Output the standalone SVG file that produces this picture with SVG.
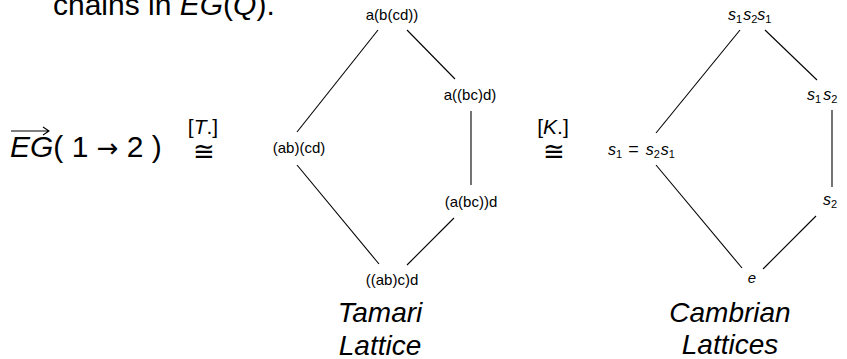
<svg xmlns="http://www.w3.org/2000/svg" width="847" height="359" viewBox="0 0 847 359">
<style>
  text { font-family: "Liberation Sans", Arial, sans-serif; fill: #000; }
  .lbl { font-size: 15px; text-anchor: middle; }
  .big { font-size: 30px; }
  .title { font-size: 28px; font-style: italic; text-anchor: middle; }
  .it { font-style: italic; }
  .sub { font-size: 11px; }
  .sym { font-family: "DejaVu Sans", sans-serif; }
  .edge { stroke: #000; stroke-width: 1.1; fill: none; }
</style>
<rect width="847" height="359" fill="#fff"/>

<text class="big" x="53" y="15">chains in <tspan class="it">EG</tspan>(<tspan class="it">Q</tspan>).</text>

<g id="eg-label">
  <text class="big" x="10" y="157"><tspan class="it">EG</tspan>( 1 <tspan class="sym" font-size="26" font-weight="normal">→</tspan> 2 )</text>
  <path class="edge" d="M11 131 H49 M43 127 L49 131 L43 135" stroke-width="1.4"/>
</g>

<g id="iso-T">
  <text x="203" y="134" font-size="21" text-anchor="middle">[<tspan class="it">T</tspan>.]</text>
  <text class="sym" x="204" y="160" font-size="26" text-anchor="middle">≅</text>
</g>
<g id="iso-K">
  <text x="553" y="134" font-size="21" text-anchor="middle">[<tspan class="it">K</tspan>.]</text>
  <text class="sym" x="554" y="160" font-size="26" text-anchor="middle">≅</text>
</g>

<g id="connectors">
  <line class="edge" x1="297" y1="132" x2="378" y2="30"/>
  <line class="edge" x1="407" y1="30" x2="455" y2="79"/>
  <line class="edge" x1="471" y1="111" x2="471" y2="185"/>
  <line class="edge" x1="454" y1="218" x2="407" y2="265"/>
  <line class="edge" x1="297" y1="165" x2="379" y2="264"/>
  <line class="edge" x1="656" y1="133" x2="740" y2="30"/>
  <line class="edge" x1="765" y1="30" x2="817" y2="80"/>
  <line class="edge" x1="832" y1="110" x2="832" y2="187"/>
  <line class="edge" x1="816" y1="216" x2="763" y2="269"/>
  <line class="edge" x1="656" y1="165" x2="742" y2="268"/>
</g>

<g id="t-abcd-top"><text class="lbl" x="392" y="20">a(b(cd))</text></g>
<g id="t-a-bc-d"><text class="lbl" x="470" y="100">a((bc)d)</text></g>
<g id="t-ab-cd"><text class="lbl" x="299" y="153">(ab)(cd)</text></g>
<g id="t-abc-d"><text class="lbl" x="471" y="207">(a(bc))d</text></g>
<g id="t-bottom"><text class="lbl" x="392" y="285">((ab)c)d</text></g>

<g id="c-s1s2s1"><text x="728" y="20" font-size="16"><tspan class="it">s</tspan><tspan class="sub" dy="3">1</tspan><tspan class="it" dx="1" dy="-3">s</tspan><tspan class="sub" dy="3">2</tspan><tspan class="it" dy="-3">s</tspan><tspan class="sub" dy="3">1</tspan></text></g>
<g id="c-s1s2"><text x="807" y="100" font-size="16"><tspan class="it">s</tspan><tspan class="sub" dy="3">1</tspan><tspan class="it" dx="2" dy="-3">s</tspan><tspan class="sub" dy="3">2</tspan></text></g>
<g id="c-s1"><text x="608" y="155" font-size="16"><tspan class="it">s</tspan><tspan class="sub" dy="3">1</tspan><tspan dx="6" dy="-3" font-size="18">=</tspan><tspan class="it" dx="7">s</tspan><tspan class="sub" dy="3">2</tspan><tspan class="it" dx="1" dy="-3">s</tspan><tspan class="sub" dy="3">1</tspan></text></g>
<g id="c-s2"><text x="823" y="205" font-size="16"><tspan class="it">s</tspan><tspan class="sub" dy="3">2</tspan></text></g>
<g id="c-e"><text x="752" y="283" font-size="15" class="it" text-anchor="middle">e</text></g>

<g id="titles">
  <text class="title" x="380" y="322">Tamari</text>
  <text class="title" x="380" y="355">Lattice</text>
  <text class="title" x="730" y="322">Cambrian</text>
  <text class="title" x="730" y="354">Lattices</text>
</g>
</svg>
